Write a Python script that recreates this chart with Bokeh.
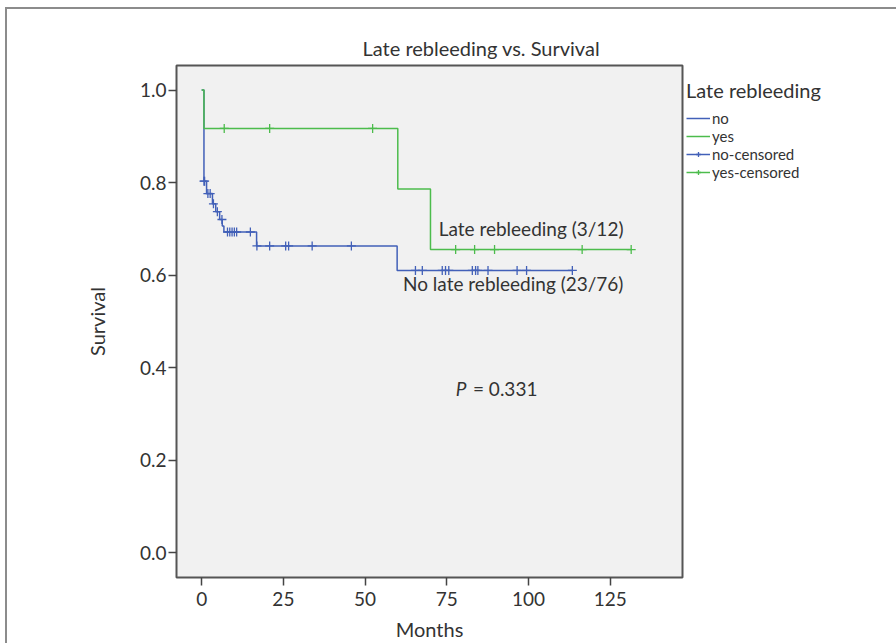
import numpy as np
from bokeh.plotting import figure
from bokeh.models import (Range1d, FixedTicker, Legend, LegendItem, Label, NumeralTickFormatter)
from bokeh.embed import file_html
from bokeh.resources import INLINE

# ---- data ----
no_times = [0, 0.7, 1.5, 3.3, 4.3, 5.5, 6.3, 6.8, 16.8, 59.8, 113.4]
no_surv = [1.0, 0.803, 0.776, 0.754, 0.737, 0.720, 0.706, 0.693, 0.663, 0.610, 0.610]
no_censored = [0.7, 0.9, 1.9, 2.6, 3.6, 4.8, 6.2, 7.9, 8.6, 9.3, 10.0, 10.7, 14.9,
               16.9, 20.8, 25.7, 26.6, 33.8, 45.8, 65.4, 67.5, 73.6, 74.6, 75.6,
               82.8, 83.8, 84.5, 87.6, 96.5, 99.4, 113.4]

yes_times = [0, 0.7, 60.0, 70.0, 131.4]
yes_surv = [1.0, 0.917, 0.786, 0.655, 0.655]
yes_censored = [6.9, 20.8, 52.3, 77.7, 83.5, 89.6, 116.4, 131.4]

x_ticks = [0, 25, 50, 75, 100, 125]
y_ticks = [0.0, 0.2, 0.4, 0.6, 0.8, 1.0]

BLUE = "#4260b8"
GREEN = "#4cbc4c"
FONT = "Lato"
TXT = "#333333"


def surv_at(times, surv, t):
    idx = np.searchsorted(np.array(times), np.array(t), side="right") - 1
    return list(np.array(surv)[idx])


p = figure(frame_width=506, frame_height=512, output_backend="svg", toolbar_location=None,
           x_range=Range1d(-7.7, 147.1), y_range=Range1d(-0.054, 1.053),
           min_border_left=169, min_border_right=214, min_border_top=56,
           min_border_bottom=66)
p.styles = {"margin-left": "5px", "margin-top": "7px",
            "border-top": "2px solid #8c8c8c", "border-left": "2px solid #8c8c8c"}

p.background_fill_color = "#f1f1f1"
p.border_fill_color = "white"
p.outline_line_color = "#555555"
p.outline_line_width = 2
p.grid.visible = False

p.title.text = "Late rebleeding vs. Survival"
p.title.align = "left"
p.title.offset = 186
p.title.text_font = FONT
p.title.text_font_size = "20px"
p.title.text_font_style = "normal"
p.title.text_color = TXT
p.title.standoff = 12

for ax in (p.xaxis[0], p.yaxis[0]):
    ax.axis_line_color = None
    ax.major_tick_in = 0
    ax.major_tick_out = 8
    ax.major_tick_line_color = "#444444"
    ax.major_tick_line_width = 1.5
    ax.minor_tick_line_color = None
    ax.major_label_text_font = FONT
    ax.major_label_text_font_size = "19px"
    ax.major_label_text_color = TXT
    ax.axis_label_text_font = FONT
    ax.axis_label_text_font_size = "20px"
    ax.axis_label_text_font_style = "normal"
    ax.axis_label_text_color = TXT

p.xaxis.ticker = FixedTicker(ticks=x_ticks)
p.yaxis.ticker = FixedTicker(ticks=y_ticks)
p.yaxis.formatter = NumeralTickFormatter(format="0.0")
p.xaxis.axis_label = "Months"
p.yaxis.axis_label = "Survival"
p.xaxis.major_label_standoff = 6
p.yaxis.major_label_standoff = 2
p.xaxis.axis_label_standoff = 8
p.yaxis.axis_label_standoff = 28

r_no = p.step(no_times, no_surv, mode="after", line_color=BLUE, line_width=1.5)
r_yes = p.step(yes_times, yes_surv, mode="after", line_color=GREEN, line_width=1.5)
r_noc = p.scatter(no_censored, surv_at(no_times, no_surv, no_censored), marker="cross",
                  size=9, line_color=BLUE, line_width=1.3)
r_yesc = p.scatter(yes_censored, surv_at(yes_times, yes_surv, yes_censored), marker="cross",
                   size=9, line_color=GREEN, line_width=1.3)
# line parts of the censored legend icons (legend only, nothing drawn)
r_noc_l = p.line(x=[np.nan], y=[np.nan], line_color=BLUE, line_width=1.5)
r_yesc_l = p.line(x=[np.nan], y=[np.nan], line_color=GREEN, line_width=1.5)

legend = Legend(items=[LegendItem(label="no", renderers=[r_no]),
                       LegendItem(label="yes", renderers=[r_yes]),
                       LegendItem(label="no-censored", renderers=[r_noc_l, r_noc]),
                       LegendItem(label="yes-censored", renderers=[r_yesc_l, r_yesc])],
                location=(4, 396), title="Late rebleeding")
legend.title_text_font = FONT
legend.title_text_font_size = "20px"
legend.title_text_font_style = "normal"
legend.title_text_color = TXT
legend.title_standoff = 7
legend.label_text_font = FONT
legend.label_text_font_size = "15px"
legend.label_text_color = TXT
legend.label_height = 12
legend.glyph_height = 12
legend.glyph_width = 24
legend.label_standoff = 2
legend.spacing = -5
legend.padding = 4
legend.margin = 0
legend.border_line_color = None
legend.background_fill_alpha = 0
p.add_layout(legend, "right")

p.add_layout(Label(x=72.5, y=0.676, text="Late rebleeding (3/12)", text_font=FONT,
                   text_font_size="19px", text_color=TXT))
p.add_layout(Label(x=61.6, y=0.556, text="No late rebleeding (23/76)", text_font=FONT,
                   text_font_size="19px", text_color=TXT))
p.add_layout(Label(x=77.7, y=0.330, text="P", text_font=FONT, text_font_style="italic",
                   text_font_size="19px", text_color=TXT))
p.add_layout(Label(x=83.0, y=0.330, text="= 0.331", text_font=FONT,
                   text_font_size="19px", text_color=TXT))

open("out.html", "w").write(file_html(p, INLINE))
